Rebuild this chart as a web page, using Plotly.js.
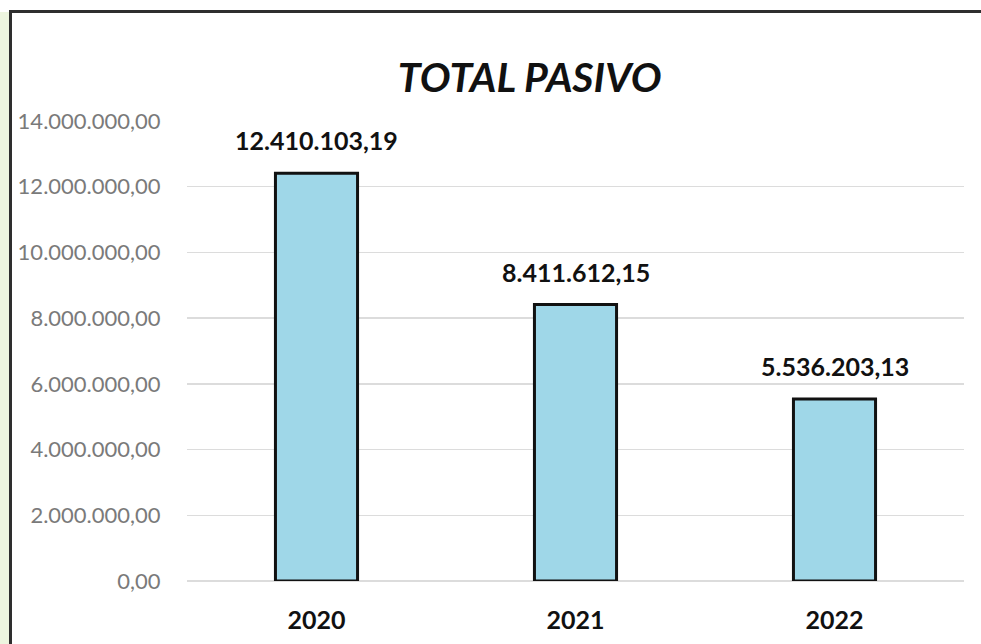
<!DOCTYPE html>
<html>
<head>
<meta charset="utf-8">
<script src="https://cdn.plot.ly/plotly-3.0.1.min.js"></script>
<style>
  html, body { margin: 0; padding: 0; background: #ffffff; }
  #wrap { position: relative; width: 981px; height: 644px; overflow: hidden; }
  #chart { position: absolute; left: 0; top: 0; width: 981px; height: 644px; }
  #strip { position: absolute; left: 0; top: 12px; width: 10px; height: 632px; background: #edf5df; }
  #bl { position: absolute; left: 9px; top: 10px; width: 3px; height: 634px; background: #2e2e2e; }
  #bt { position: absolute; left: 9px; top: 10px; width: 972px; height: 3px; background: #2e2e2e; }
</style>
</head>
<body>
<div id="wrap">
  <div id="chart"></div>
  <div id="strip"></div>
  <div id="bl"></div>
  <div id="bt"></div>
</div>
<script>
const categories = ["2020", "2021", "2022"];
const values = [12410103.19, 8411612.15, 5536203.13];
const labels = ["12.410.103,19", "8.411.612,15", "5.536.203,13"];
const tickValues = [0, 2000000, 4000000, 6000000, 8000000, 10000000, 12000000, 14000000];
const tickLabels = ["0,00", "2.000.000,00", "4.000.000,00", "6.000.000,00", "8.000.000,00", "10.000.000,00", "12.000.000,00", "14.000.000,00"];

const fontFam = "Lato, 'Open Sans', sans-serif";

const trace = {
  type: "bar",
  x: categories,
  y: values,
  width: 0.317,
  marker: { color: "#9fd7e8", line: { color: "#111111", width: 3 } },
  hoverinfo: "none"
};

const annotations = categories.map((c, i) => ({
  x: i, y: values[i], xref: "x", yref: "y",
  text: labels[i], showarrow: false,
  yanchor: "bottom", yshift: 16,
  font: { family: fontFam, size: 25, color: "#111111", weight: "bold" }
}));

const layout = {
  width: 981, height: 644,
  margin: { l: 187, r: 17, t: 121, b: 63 },
  paper_bgcolor: "#ffffff",
  plot_bgcolor: "#ffffff",
  separators: ",.",
  showlegend: false,
  title: {
    text: "<b><i>TOTAL PASIVO</i></b>",
    x: 0.54, xanchor: "center",
    y: 0.879, yanchor: "middle",
    font: { family: fontFam, size: 41, color: "#111111" }
  },
  xaxis: {
    type: "category",
    range: [-0.5, 2.5],
    showgrid: false, showline: false, zeroline: false,
    ticks: "outside", ticklen: 17, tickcolor: "rgba(0,0,0,0)",
    tickfont: { family: fontFam, size: 25, color: "#111111", weight: "bold" }
  },
  yaxis: {
    range: [0, 14000000],
    tickmode: "array", tickvals: tickValues, ticktext: tickLabels,
    showgrid: true, gridcolor: "#dcdcdc", gridwidth: 1.5,
    zeroline: true, zerolinecolor: "#dcdcdc", zerolinewidth: 1.5,
    showline: false,
    ticks: "outside", ticklen: 21, tickcolor: "rgba(0,0,0,0)",
    tickfont: { family: fontFam, size: 22, color: "#7a7a7a" }
  },
  annotations: annotations
};

Plotly.newPlot("chart", [trace], layout, { displayModeBar: false, staticPlot: true });
</script>
</body>
</html>
